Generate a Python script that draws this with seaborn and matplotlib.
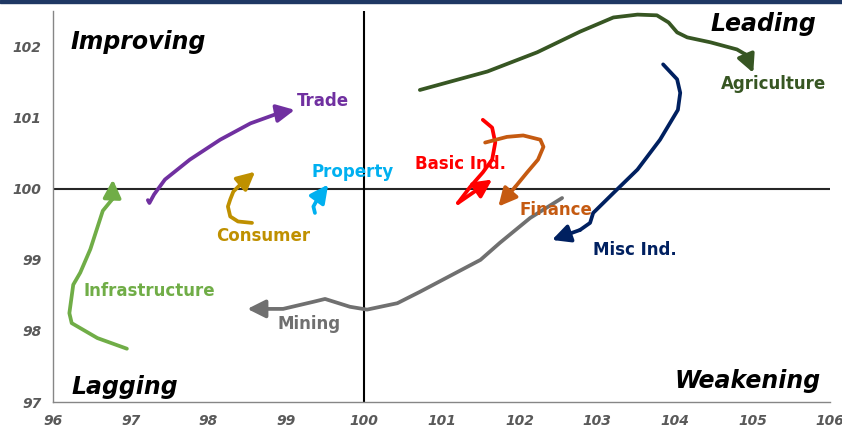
import numpy as np
import matplotlib
matplotlib.use('Agg')
import matplotlib.pyplot as plt
import seaborn as sns
from matplotlib.patches import Rectangle

sns.set_style('white')
plt.rcParams['font.family'] = ['DejaVu Sans']

# Sector trails (relative strength x, momentum y); last point = arrow tip
trade_x = [97.22, 97.24, 97.30, 97.44, 97.76, 98.15, 98.54, 98.92, 99.11]
trade_y = [99.84, 99.80, 99.92, 100.13, 100.41, 100.69, 100.92, 101.07, 101.11]

infra_x = [96.95, 96.57, 96.24, 96.21, 96.26, 96.35, 96.48, 96.64, 96.76, 96.77]
infra_y = [97.75, 97.90, 98.11, 98.25, 98.65, 98.82, 99.15, 99.69, 99.85, 100.13]

consumer_x = [98.56, 98.38, 98.28, 98.25, 98.28, 98.32, 98.41, 98.60]
consumer_y = [99.52, 99.54, 99.61, 99.75, 99.85, 99.96, 100.06, 100.24]

property_x = [99.37, 99.35, 99.40, 99.46, 99.54]
property_y = [99.66, 99.75, 99.85, 99.94, 100.06]

mining_x = [102.55, 102.14, 101.75, 101.50, 100.72, 100.43, 100.04, 99.82, 99.50, 99.35, 98.96, 98.75, 98.50]
mining_y = [99.87, 99.59, 99.24, 99.00, 98.55, 98.39, 98.30, 98.34, 98.45, 98.41, 98.31, 98.31, 98.31]

basic_x = [101.53, 101.65, 101.69, 101.65, 101.53, 101.37, 101.21, 101.65]
basic_y = [100.97, 100.86, 100.65, 100.41, 100.23, 100.03, 99.80, 100.13]

finance_x = [101.56, 101.84, 102.05, 102.27, 102.31, 102.24, 102.10, 101.95, 101.73]
finance_y = [100.65, 100.73, 100.75, 100.69, 100.59, 100.41, 100.23, 100.03, 99.75]

misc_x = [103.85, 104.03, 104.07, 104.04, 103.81, 103.52, 103.21, 102.95, 102.91, 102.78, 102.42]
misc_y = [101.75, 101.54, 101.35, 101.11, 100.69, 100.27, 99.94, 99.66, 99.52, 99.42, 99.28]

agri_x = [100.72, 101.59, 102.23, 102.78, 103.21, 103.52, 103.77, 103.92, 104.03, 104.16, 104.46, 104.80, 104.91, 105.01]
agri_y = [101.39, 101.65, 101.92, 102.21, 102.41, 102.45, 102.44, 102.34, 102.20, 102.13, 102.06, 101.96, 101.89, 101.63]

sectors = [
    ('Trade', trade_x, trade_y, '#7030A0', (99.47, 101.23)),
    ('Infrastructure', infra_x, infra_y, '#70AD47', (97.24, 98.56)),
    ('Consumer', consumer_x, consumer_y, '#BF9000', (98.70, 99.34)),
    ('Property', property_x, property_y, '#00B0F0', (99.85, 100.23)),
    ('Mining', mining_x, mining_y, '#707070', (99.29, 98.10)),
    ('Basic Ind.', basic_x, basic_y, '#FF0000', (101.24, 100.35)),
    ('Finance', finance_x, finance_y, '#C55A11', (102.47, 99.70)),
    ('Misc Ind.', misc_x, misc_y, '#002060', (103.49, 99.14)),
    ('Agriculture', agri_x, agri_y, '#375623', (105.27, 101.48)),
]

fig = plt.figure(figsize=(8.42, 4.32), dpi=100)
ax = fig.add_axes([0.063, 0.0694, 0.923, 0.905])

ax.axhline(100, color='#262626', lw=1.5, zorder=1)
ax.axvline(100, color='black', lw=1.5, zorder=1)

for name, xs, ys, col, (lx, ly) in sectors:
    sns.lineplot(x=xs[:-1], y=ys[:-1], sort=False, color=col, lw=2.7,
                 ax=ax, zorder=3, estimator=None)
    ax.annotate('', xy=(xs[-1], ys[-1]), xytext=(xs[-2], ys[-2]),
                arrowprops=dict(arrowstyle='-|>,head_length=0.9,head_width=0.45',
                                color=col, lw=2.7, mutation_scale=12,
                                shrinkA=0, shrinkB=0),
                zorder=4)
    ax.text(lx, ly, name, color=col, fontsize=12, fontweight='bold',
            ha='center', va='center', zorder=5)

quad = dict(fontsize=17, fontweight='bold', fontstyle='italic', color='black')
ax.text(96.22, 102.07, 'Improving', ha='left', va='center', **quad)
ax.text(105.82, 102.32, 'Leading', ha='right', va='center', **quad)
ax.text(96.24, 97.21, 'Lagging', ha='left', va='center', **quad)
ax.text(105.87, 97.30, 'Weakening', ha='right', va='center', **quad)

ax.set_xlim(96, 106)
ax.set_ylim(97, 102.5)
ax.set_xticks(range(96, 107))
ax.set_yticks(range(97, 103))
ax.set_xlabel('')
ax.set_ylabel('')
for s in ['top', 'right']:
    ax.spines[s].set_visible(False)
for s in ['left', 'bottom']:
    ax.spines[s].set_color('#868686')
    ax.spines[s].set_linewidth(1)
ax.tick_params(axis='both', direction='out', length=5, color='#868686',
               labelsize=10, labelcolor='#595959')
for lab in ax.get_xticklabels() + ax.get_yticklabels():
    lab.set_fontstyle('italic')
    lab.set_fontweight('bold')

fig.patches.append(Rectangle((0, 0.994), 1, 0.006, transform=fig.transFigure,
                             color='#1F3864', zorder=10))

fig.savefig('out.png', dpi=100)
